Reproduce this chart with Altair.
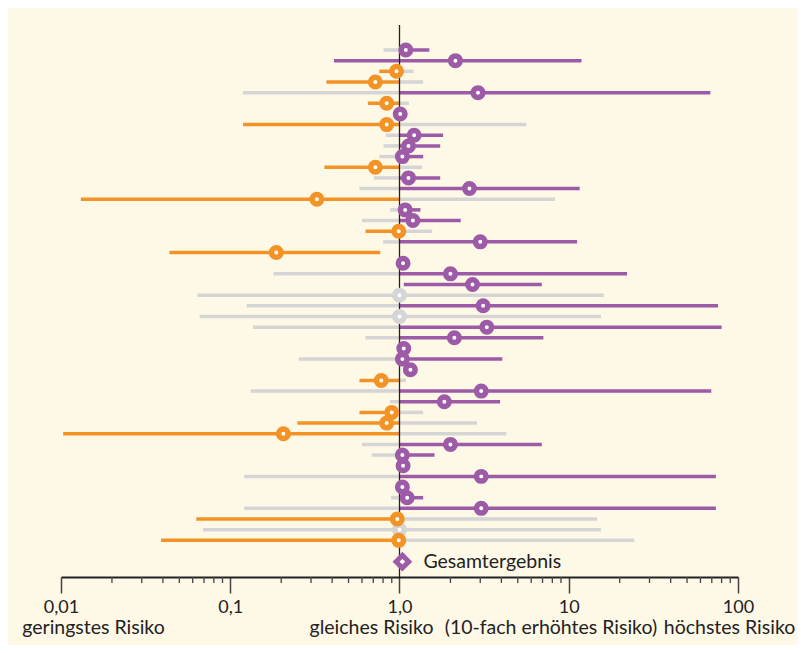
import altair as alt
import pandas as pd

# ---- data ----
rows = list(range(1, 48))
kind = ["p", "p", "o", "o", "p", "o", "p", "o", "p", "p", "p", "o", "p", "p", "o", "p",
        "p", "o", "p", "o", "p", "p", "p", "g", "p", "g", "p", "p", "p", "p", "p", "o",
        "p", "p", "o", "o", "o", "p", "p", "p", "p", "p", "p", "p", "o", "g", "o"]
est = [1.09, 2.14, 0.96, 0.72, 2.91, 0.84, 1.01, 0.84, 1.22, 1.13, 1.04, 0.72, 1.13,
       2.59, 0.325, 1.08, 1.20, 0.99, 3.0, 0.187, 1.05, 2.0, 2.7, 1.0, 3.12, 1.0, 3.28,
       2.11, 1.06, 1.04, 1.16, 0.78, 3.04, 1.84, 0.90, 0.84, 0.206, 2.0, 1.04, 1.05,
       3.04, 1.04, 1.11, 3.04, 0.97, 1.0, 0.99]
lo = [0.805, 0.41, 0.76, 0.37, 0.119, 0.65, 0.97, 0.119, 0.83, 0.805, 0.76, 0.36, 0.705,
      0.58, 0.0131, 0.88, 0.60, 0.63, 0.80, 0.0437, 1.0, 0.18, 1.06, 0.064, 0.125, 0.066,
      0.136, 0.63, 1.01, 0.254, 1.11, 0.58, 0.132, 0.88, 0.58, 0.249, 0.0103, 0.60, 0.686,
      1.0, 0.121, 0.99, 0.89, 0.121, 0.063, 0.069, 0.039]
hi = [1.5, 11.9, 1.21, 1.38, 68.6, 1.14, 1.05, 5.62, 1.81, 1.74, 1.38, 1.36, 1.74, 11.6,
      8.3, 1.33, 2.3, 1.56, 11.2, 0.77, 1.1, 22.1, 6.93, 16.1, 76.2, 15.5, 80.0, 7.08,
      1.11, 4.05, 1.21, 1.09, 69.5, 3.93, 1.38, 2.87, 4.28, 6.93, 1.61, 1.1, 74.0, 1.09,
      1.38, 74.0, 14.7, 15.5, 24.4]
# colour of the CI part left / right of 1.0
left_col = ["g", "p", "o", "o", "g", "o", "g", "o", "g", "g", "g", "o", "g", "g", "o", "g",
            "g", "o", "g", "o", "g", "g", "g", "g", "g", "g", "g", "g", "g", "g", "g", "o",
            "g", "g", "o", "o", "o", "g", "g", "g", "g", "g", "g", "g", "o", "g", "o"]
right_col = ["p", "p", "g", "g", "p", "g", "p", "g", "p", "p", "p", "g", "p", "p", "g", "p",
             "p", "g", "p", "g", "p", "p", "p", "g", "p", "g", "p", "p", "p", "p", "p", "g",
             "p", "p", "g", "g", "g", "p", "p", "p", "p", "p", "p", "p", "g", "g", "g"]
overall_row = 49
overall_est = 1.04
overall_label = "Gesamtergebnis"
major_ticks = [0.01, 0.1, 1, 10, 100]
minor_ticks = [m * d for d in (0.01, 0.1, 1, 10) for m in range(2, 10)]
bottom_labels = ["geringstes Risiko", "gleiches Risiko", "(10-fach erhöhtes Risiko)", "höchstes Risiko"]
bottom_label_x = [0.01556, 0.683, 7.85, 89.1]

# ---- styles ----
PURPLE = "#9D5AA6"
ORANGE = "#F39325"
GREY = "#D5D5D5"
BG = "#FEF8E7"
FONT = "Lato"
col_scale = alt.Scale(domain=["p", "o", "g"], range=[PURPLE, ORANGE, GREY])

# segments
seg = []
for r, l, h, lc, rc in zip(rows, lo, hi, left_col, right_col):
    if l < 1:
        seg.append({"row": r, "a": l, "b": min(1.0, h), "c": lc})
    if h > 1:
        seg.append({"row": r, "a": max(1.0, l), "b": h, "c": rc})
seg_df = pd.DataFrame(seg)
pts_df = pd.DataFrame({"row": rows, "est": est, "kind": kind})

xs = alt.Scale(type="log", domain=[0.01, 100])
ys = alt.Scale(domain=[-2.94, 50.44], reverse=True)
label_expr = ("datum.value == 0.01 ? '0,01' : datum.value == 0.1 ? '0,1' : "
              "datum.value == 1 ? '1,0' : datum.value == 10 ? '10' : '100'")
xaxis = alt.Axis(values=major_ticks, labelExpr=label_expr, title=None, grid=False,
                 domainColor="#222222", domainWidth=2, tickColor="#444444", tickWidth=1.5,
                 tickSize=16, labelFont=FONT, labelFontSize=18, labelColor="#222222",
                 labelPadding=5, labelFlush=False, labelOverlap=False)

lines = alt.Chart(seg_df).mark_rule(strokeWidth=3.5).encode(
    x=alt.X("a:Q", scale=xs, axis=xaxis),
    x2="b:Q",
    y=alt.Y("row:Q", scale=ys, axis=None),
    color=alt.Color("c:N", scale=col_scale, legend=None),
)

minor = alt.Chart(pd.DataFrame({"v": minor_ticks})).mark_rule(
    color="#444444", strokeWidth=1.3).encode(
    x=alt.X("v:Q", scale=xs, axis=xaxis),
    y=alt.value(569), y2=alt.value(575),
)

ref = alt.Chart(pd.DataFrame({"v": [1.0]})).mark_rule(color="#222222", strokeWidth=1.3).encode(
    x=alt.X("v:Q", scale=xs, axis=xaxis),
    y=alt.value(17), y2=alt.value(569),
)

ring = dict(shape="circle", size=90, strokeWidth=5.5, fill="#FFFFFF", fillOpacity=1, opacity=1)
grey_pts = alt.Chart(pts_df[pts_df["kind"] == "g"]).mark_point(**ring).encode(
    x=alt.X("est:Q", scale=xs, axis=xaxis),
    y=alt.Y("row:Q", scale=ys, axis=None),
    stroke=alt.Stroke("kind:N", scale=col_scale, legend=None),
)
col_pts = alt.Chart(pts_df[pts_df["kind"] != "g"]).mark_point(**ring).encode(
    x=alt.X("est:Q", scale=xs, axis=xaxis),
    y=alt.Y("row:Q", scale=ys, axis=None),
    stroke=alt.Stroke("kind:N", scale=col_scale, legend=None),
)

ov_df = pd.DataFrame({"row": [overall_row], "est": [overall_est], "label": [overall_label]})
diamond = alt.Chart(ov_df).mark_point(
    shape="diamond", size=160, strokeWidth=5, fill="#FFFFFF", fillOpacity=1, opacity=1,
    stroke=PURPLE).encode(
    x=alt.X("est:Q", scale=xs, axis=xaxis),
    y=alt.Y("row:Q", scale=ys, axis=None),
)
ov_text = alt.Chart(ov_df).mark_text(
    align="left", baseline="middle", dx=21, dy=0, font=FONT, fontSize=19.5, color="#222222").encode(
    x=alt.X("est:Q", scale=xs, axis=xaxis),
    y=alt.Y("row:Q", scale=ys, axis=None),
    text="label:N",
)

bl_df = pd.DataFrame({"label": bottom_labels, "pos": bottom_label_x})
bottom = alt.Chart(bl_df).mark_text(
    align="center", baseline="alphabetic", font=FONT, fontSize=19.5, color="#222222").encode(
    x=alt.X("pos:Q", scale=xs, axis=xaxis),
    y=alt.value(626),
    text="label:N",
)

chart = alt.layer(lines, minor, ref, grey_pts, col_pts, diamond, ov_text, bottom).properties(
    width=677, height=569,
    padding={"left": 53, "top": 0, "right": 59, "bottom": 68},
    autosize=alt.AutoSizeParams(type="none"),
    background=BG,
).configure_view(stroke=None)

chart.save("out.html", embed_options={"renderer": "svg", "actions": False})
